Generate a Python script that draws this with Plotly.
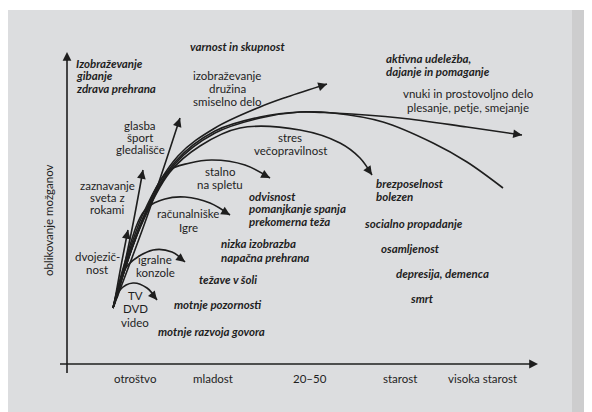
import plotly.graph_objects as go

# --- curves of the diagram (image coordinates, y grows downwards) ---
curve_names = ["glasba", "zaznavanje", "dvojezicnost", "tv", "konzole", "racunalnik",
               "splet", "stres", "izobrazevanje", "vnuki", "upad"]
curve_x = {
    "glasba": [113, 148, 180],
    "zaznavanje": [117, 131, 143],
    "dvojezicnost": [114, 121, 128],
    "tv": [114, 120, 133, 147, 157],
    "konzole": [113, 119, 128, 153, 172, 185],
    "racunalnik": [113, 125, 145, 165, 185, 210, 230],
    "splet": [113, 135, 167, 190, 212, 245, 270],
    "stres": [113, 140, 170, 200, 240, 300, 340, 360, 372],
    "izobrazevanje": [113, 143, 178, 215, 260, 287, 327],
    "vnuki": [113, 143, 175, 215, 260, 300, 333, 400, 467, 522],
    "upad": [113, 143, 175, 215, 260, 300, 333, 383, 433, 467, 503],
}
curve_y = {
    "glasba": [308, 214, 118],
    "zaznavanje": [298, 234, 170],
    "dvojezicnost": [305, 266, 230],
    "tv": [306, 290, 283, 288, 300],
    "konzole": [308, 285, 265, 250, 252, 262],
    "racunalnik": [308, 262, 210, 199, 197, 203, 215],
    "splet": [308, 240, 172, 163, 160, 165, 178],
    "stres": [308, 228, 172, 146, 128, 130, 143, 158, 175],
    "izobrazevanje": [308, 214, 156, 128, 107, 97, 84],
    "vnuki": [308, 218, 162, 131, 117, 112, 113, 118, 127, 135],
    "upad": [308, 220, 164, 133, 118, 112, 113, 122, 143, 162, 188],
}
curve_arrow = ["glasba", "zaznavanje", "dvojezicnost", "tv", "konzole", "racunalnik",
               "splet", "stres", "izobrazevanje", "vnuki"]

x_ticks = ["otroštvo", "mladost", "20–50", "starost", "visoka starost"]
x_tick_pos = [135, 213, 310, 400, 482]
y_title = "oblikovanje možganov"

# labels: lines, x, y of first line, anchor, bold italic
label_lines = [
    ["Izobraževanje", "gibanje", "zdrava prehrana"],
    ["varnost in skupnost"],
    ["izobraževanje", "družina", "smiselno delo"],
    ["glasba", "šport", "gledališče"],
    ["stres", "večopravilnost"],
    ["stalno", "na spletu"],
    ["zaznavanje", "sveta z", "rokami"],
    ["računalniške", "Igre"],
    ["dvojezič-", "nost"],
    ["igralne", "konzole"],
    ["TV", "DVD", "video"],
    ["odvisnost", "pomanjkanje spanja", "prekomerna teža"],
    ["nizka izobrazba", "napačna prehrana"],
    ["težave v šoli"],
    ["motnje pozornosti"],
    ["motnje razvoja govora"],
    ["aktivna udeležba,", "dajanje in pomaganje"],
    ["vnuki in prostovoljno delo", "plesanje, petje, smejanje"],
    ["brezposelnost", "bolezen"],
    ["socialno propadanje"],
    ["osamljenost"],
    ["depresija, demenca"],
    ["smrt"],
]
label_x = [74, 237, 227, 140, 290, 220, 107, 188, 97, 155, 135, 247, 219, 197, 172, 156,
           384, 468, 374, 362, 379, 394, 408]
label_y = [63, 46, 75, 125, 137, 171, 185, 213, 256, 259, 295, 196, 243, 279, 304, 331,
           58, 93, 183, 223, 248, 273, 298]
label_anchor = ["left", "center", "center", "center", "center", "center", "center", "center",
                "center", "center", "center", "left", "left", "left", "left", "left",
                "left", "center", "left", "left", "left", "left", "left"]
label_bold = [True, True, False, False, False, False, False, False, False, False, False,
              True, True, True, True, True, True, False, True, True, True, True, True]
line_step = [12.5, 0, 13, 12, 13, 13, 12, 14, 13, 13, 13.5, 12.5, 14, 0, 0, 0,
             13, 14, 13, 0, 0, 0, 0]

ink = "#1e1e1e"
font_name = "Lato"
font_size = 11.5
page_off = 8  # the html body margin shifts the figure by 8px

fig = go.Figure()

# photographed page
fig.add_shape(type="rect", x0=7, x1=600, y0=10, y1=420, line_width=0,
              fillcolor="#dcdddf", layer="below")
fig.add_shape(type="rect", x0=572, x1=600, y0=10, y1=420, line_width=0,
              fillcolor="#cdcdce", layer="below")

for name in curve_names:
    fig.add_trace(go.Scatter(x=curve_x[name], y=curve_y[name], mode="lines", name=name,
                             line=dict(color=ink, width=1.6, shape="spline", smoothing=1.0),
                             hoverinfo="skip", showlegend=False))

annotations = []
for name in curve_arrow:
    xs, ys = curve_x[name], curve_y[name]
    dx, dy = xs[-1] - xs[-2], ys[-1] - ys[-2]
    d = (dx * dx + dy * dy) ** 0.5
    annotations.append(dict(x=xs[-1], y=ys[-1], ax=xs[-1] - 6 * dx / d, ay=ys[-1] - 6 * dy / d,
                            xref="x", yref="y", axref="x", ayref="y", text="",
                            showarrow=True, arrowhead=2, arrowsize=1.1, arrowwidth=1.6,
                            arrowcolor=ink))

# axes
fig.add_trace(go.Scatter(x=[60, 536], y=[364, 364], mode="lines", line=dict(color=ink, width=1.6),
                         hoverinfo="skip", showlegend=False))
fig.add_trace(go.Scatter(x=[67, 67], y=[373, 55], mode="lines", line=dict(color=ink, width=1.6),
                         hoverinfo="skip", showlegend=False))
annotations.append(dict(x=538, y=364, ax=528, ay=364, xref="x", yref="y", axref="x", ayref="y",
                        text="", showarrow=True, arrowhead=2, arrowsize=1.1, arrowwidth=1.6,
                        arrowcolor=ink))
annotations.append(dict(x=67, y=52, ax=67, ay=62, xref="x", yref="y", axref="x", ayref="y",
                        text="", showarrow=True, arrowhead=2, arrowsize=1.1, arrowwidth=1.6,
                        arrowcolor=ink))

for t, px in zip(x_ticks, x_tick_pos):
    annotations.append(dict(x=px, y=378, xref="x", yref="y", text=t, showarrow=False,
                            font=dict(family=font_name, size=font_size, color=ink)))
annotations.append(dict(x=48, y=220, xref="x", yref="y", text=y_title, showarrow=False,
                        textangle=-90, font=dict(family=font_name, size=font_size, color=ink)))

for lines, lx, ly, anc, bold, step in zip(label_lines, label_x, label_y, label_anchor,
                                           label_bold, line_step):
    for i, s in enumerate(lines):
        txt = "<b><i>%s</i></b>" % s if bold else s
        annotations.append(dict(x=lx, y=ly + i * step, xref="x", yref="y", text=txt,
                                showarrow=False, xanchor=anc, yanchor="middle",
                                font=dict(family=font_name, size=font_size, color=ink)))

fig.update_layout(
    width=592, height=412,
    margin=dict(l=0, r=0, t=0, b=0),
    paper_bgcolor="white", plot_bgcolor="white",
    xaxis=dict(range=[page_off, 592 + page_off], visible=False, fixedrange=True),
    yaxis=dict(range=[412 + page_off, page_off], visible=False, fixedrange=True),
    annotations=annotations,
)

fig.write_html("out.html")
